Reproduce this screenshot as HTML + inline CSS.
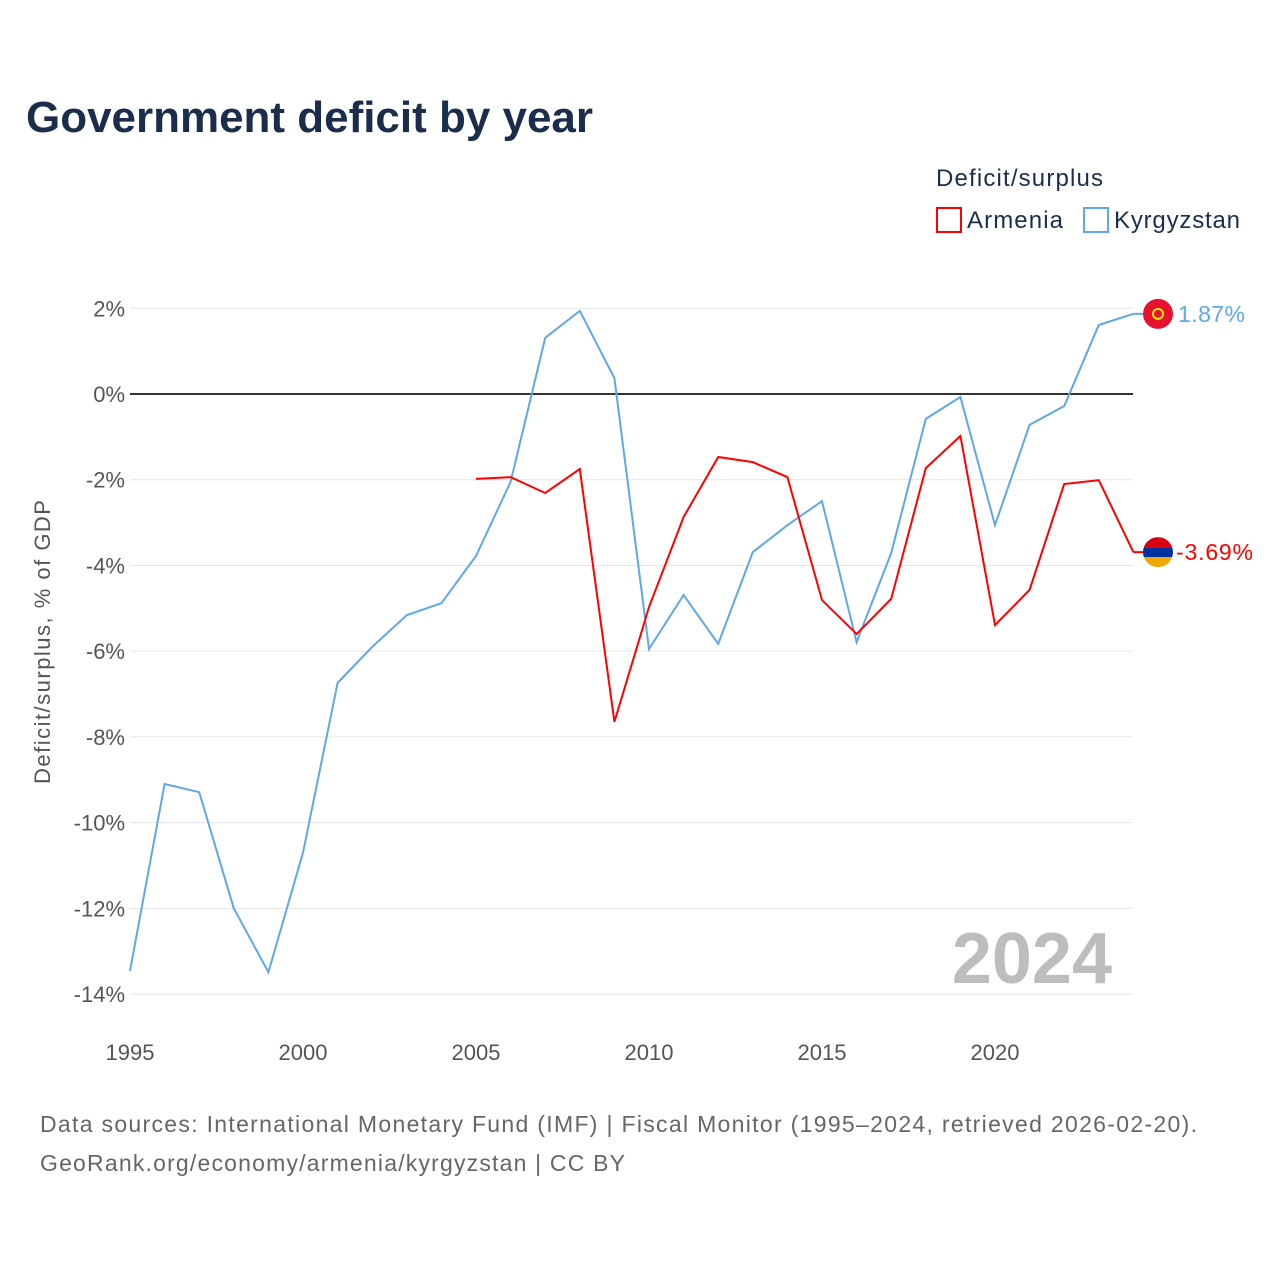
<!DOCTYPE html>
<html><head><meta charset="utf-8"><style>
body{margin:0;background:#fff;font-family:"Liberation Sans",sans-serif;}
svg text{font-family:"Liberation Sans",sans-serif;}
</style></head><body>
<svg id="c" width="1280" height="1280" xmlns="http://www.w3.org/2000/svg">
<text x="26" y="132" font-size="44" font-weight="bold" fill="#1a2e4c" textLength="567">Government deficit by year</text>
<text x="936" y="186" font-size="24" fill="#1a2e4c" textLength="167">Deficit/surplus</text>
<g><rect x="937" y="208" width="24" height="24" fill="none" stroke="#f00" stroke-width="2"/><text x="967" y="228" font-size="24" fill="#1a2e4c" textLength="96">Armenia</text></g>
<g><rect x="1084" y="208" width="24" height="24" fill="none" stroke="#5fa8e8" stroke-width="2"/><text x="1114" y="228" font-size="24" fill="#1a2e4c" textLength="126">Kyrgyzstan</text></g>
<text transform="translate(50,642) rotate(-90)" text-anchor="middle" font-size="22" fill="#555" textLength="284">Deficit/surplus, % of GDP</text>
<g id="grid"></g><g id="series"></g>
<text x="1112" y="983" text-anchor="end" font-size="72" font-weight="bold" fill="#bdbdbd">2024</text>
<text x="40" y="1132" font-size="23" fill="#666" textLength="1157">Data sources: International Monetary Fund (IMF) | Fiscal Monitor (1995–2024, retrieved 2026-02-20).</text>
<text x="40" y="1171" font-size="23" fill="#666" textLength="585">GeoRank.org/economy/armenia/kyrgyzstan | CC BY</text>
</svg>
<script>
const yTicks=[2,0,-2,-4,-6,-8,-10,-12,-14];
const xTicks=[1995,2000,2005,2010,2015,2020];
const kgYears=[1995,1996,1997,1998,1999,2000,2001,2002,2003,2004,2005,2006,2007,2008,2009,2010,2011,2012,2013,2014,2015,2016,2017,2018,2019,2020,2021,2022,2023,2024];
const kgVals=[-13.46,-9.1,-9.29,-12.0,-13.49,-10.7,-6.74,-5.9,-5.16,-4.88,-3.78,-2.05,1.31,1.94,0.37,-5.95,-4.69,-5.83,-3.69,-3.06,-2.5,-5.79,-3.71,-0.58,-0.07,-3.06,-0.72,-0.28,1.61,1.87];
const amYears=[2005,2006,2007,2008,2009,2010,2011,2012,2013,2014,2015,2016,2017,2018,2019,2020,2021,2022,2023,2024];
const amVals=[-1.98,-1.94,-2.31,-1.75,-7.65,-4.97,-2.87,-1.47,-1.59,-1.94,-4.81,-5.6,-4.78,-1.73,-0.98,-5.39,-4.57,-2.1,-2.01,-3.69];
const NS="http://www.w3.org/2000/svg";
const X=y=>130+(y-1995)*34.6;
const Y=v=>394-v*42.86;
function mk(t,a,p){const e=document.createElementNS(NS,t);for(const k in a)e.setAttribute(k,a[k]);p.appendChild(e);return e;}
const g=document.getElementById('grid'),s=document.getElementById('series');
yTicks.forEach(v=>{
 const l=mk('line',{x1:130,x2:1133,y1:Y(v),y2:Y(v),stroke:v===0?'#333':'#e6e6e6','stroke-width':v===0?2:1},g);
 
 
 const t=mk('text',{x:125,y:Y(v)+8,'text-anchor':'end','font-size':22,fill:'#555'},g);t.textContent=v+'%';
 
 
});
xTicks.forEach(v=>{
 const t=mk('text',{x:X(v),y:1060,'text-anchor':'middle','font-size':22,fill:'#555'},g);t.textContent=v;
 
 
});
function series(ys,vs,col,name){
 const pts=ys.map((y,i)=>X(y)+','+Y(vs[i])).join(' ');
 const p=mk('polyline',{points:pts,fill:'none',stroke:col,'stroke-width':2},s);
 
 
 const ly=Y(vs[vs.length-1]);
 mk('line',{x1:X(ys[ys.length-1]),y1:ly,x2:1143,y2:ly,stroke:col,'stroke-width':2},s);
 return ly;
}
const ky=series(kgYears,kgVals,'#5fa8e8','kyrgyzstan');
const ay=series(amYears,amVals,'#f00','armenia');
let f=mk('circle',{cx:1158,cy:ky,r:15,fill:'#e8112d'},s);


mk('circle',{cx:1158,cy:ky,r:5,fill:'none',stroke:'#ffef00','stroke-width':2},s);
let t=mk('text',{x:1178,y:ky+8,'font-size':23,fill:'#5fa8e8',textLength:67},s);t.textContent=kgVals[kgVals.length-1].toFixed(2)+'%';


const cp=mk('clipPath',{id:'am'},s);mk('circle',{cx:1158,cy:ay,r:15},cp);
const fg=mk('g',{'clip-path':'url(#am)'},s);


mk('rect',{x:1143,y:ay-15,width:30,height:10,fill:'#d90012'},fg);
mk('rect',{x:1143,y:ay-5,width:30,height:10,fill:'#0033a0'},fg);
mk('rect',{x:1143,y:ay+5,width:30,height:10,fill:'#f2a800'},fg);
t=mk('text',{x:1176,y:ay+8,'font-size':23,fill:'#f00',textLength:77},s);t.textContent=amVals[amVals.length-1].toFixed(2)+'%';


</script>
</body></html>
